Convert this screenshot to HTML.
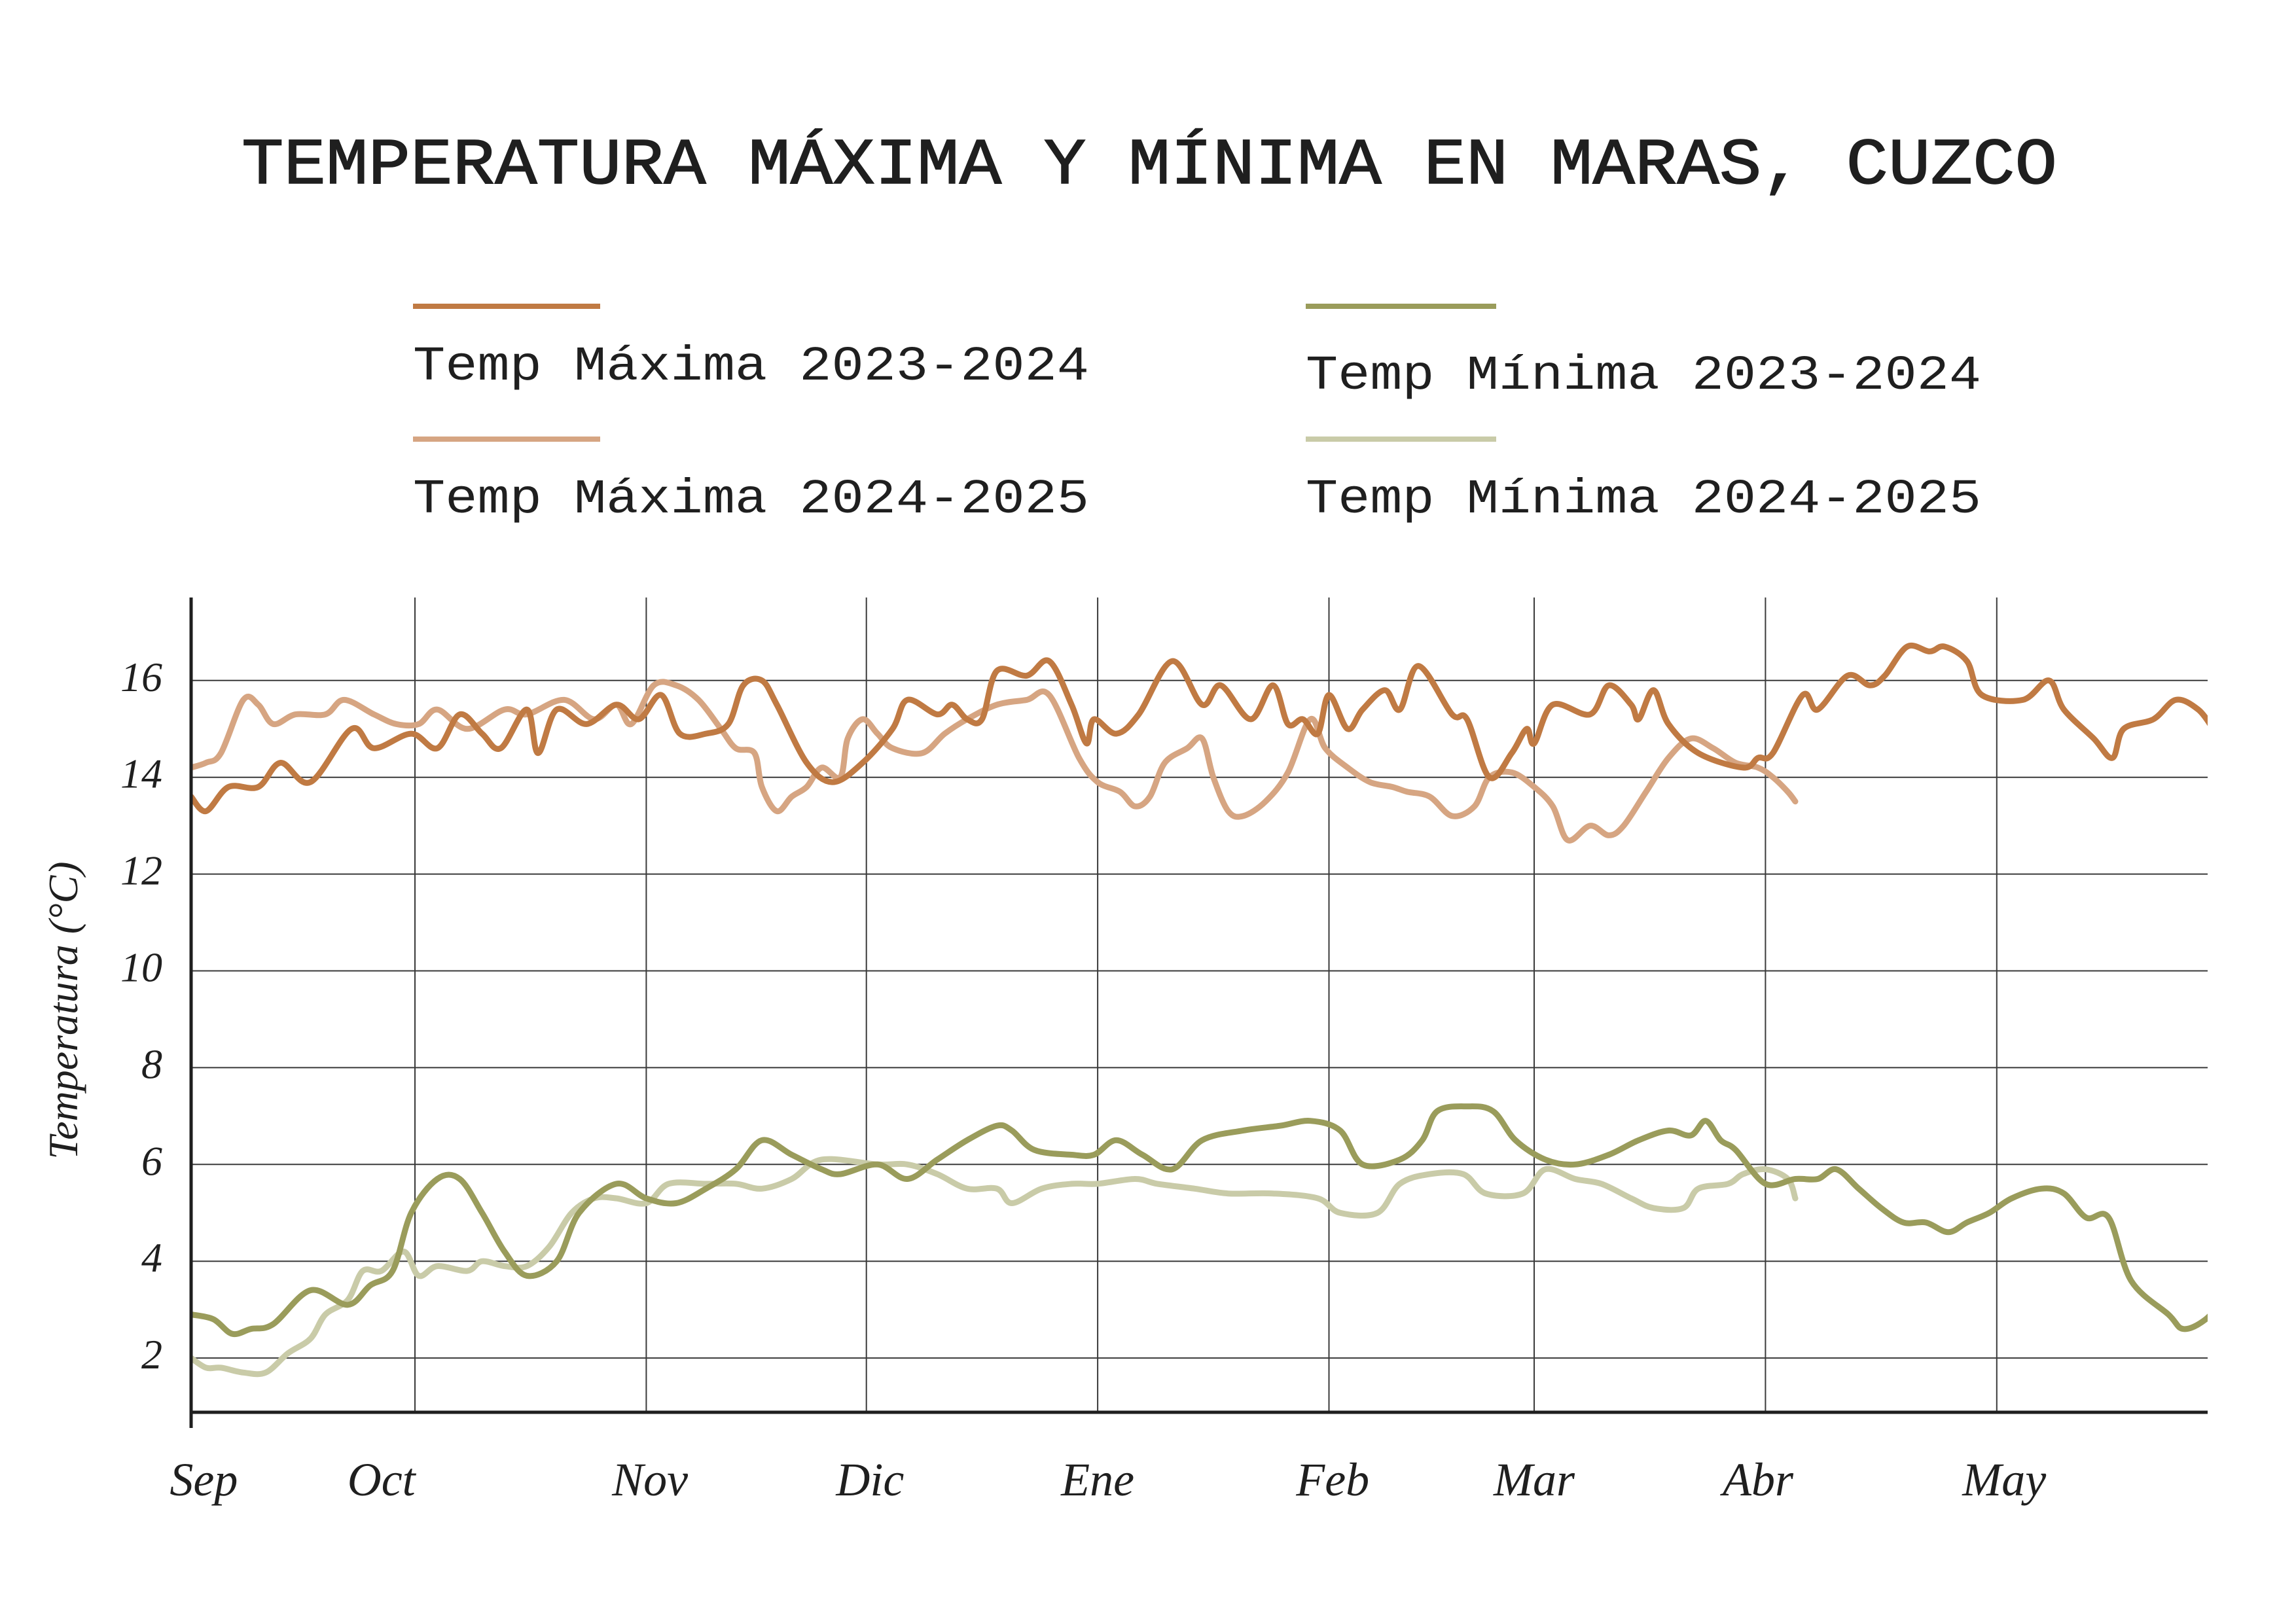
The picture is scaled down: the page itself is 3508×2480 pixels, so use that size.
<!DOCTYPE html>
<html><head><meta charset="utf-8"><style>
html,body{margin:0;padding:0;background:#fff;}
svg{display:block;}
</style></head><body>
<svg id="chart" width="3508" height="2480" viewBox="0 0 3508 2480" xmlns="http://www.w3.org/2000/svg">
<rect width="3508" height="2480" fill="#fff"/>
<text x="1756" y="280" text-anchor="middle" font-family="Liberation Mono, monospace" font-size="100" fill="#1f1f1f" stroke="#1f1f1f" stroke-width="1.5" textLength="2774" lengthAdjust="spacingAndGlyphs">TEMPERATURA MÁXIMA Y MÍNIMA EN MARAS, CUZCO</text>
<g font-family="Liberation Mono, monospace" font-size="74" fill="#1f1f1f">
<g>
<line x1="631" y1="468" x2="917" y2="468" stroke="#c07a43" stroke-width="8"/>
<text x="631" y="580" textLength="1033" lengthAdjust="spacingAndGlyphs">Temp Máxima 2023-2024</text></g>
<g>
<line x1="631" y1="671" x2="917" y2="671" stroke="#d6a582" stroke-width="8"/>
<text x="631" y="783" textLength="1033" lengthAdjust="spacingAndGlyphs">Temp Máxima 2024-2025</text></g>
<g>
<line x1="1995" y1="468" x2="2286" y2="468" stroke="#9a9c5b" stroke-width="8"/>
<text x="1995" y="594" textLength="1032" lengthAdjust="spacingAndGlyphs">Temp Mínima 2023-2024</text></g>
<g>
<line x1="1995" y1="671" x2="2286" y2="671" stroke="#c9cba8" stroke-width="8"/>
<text x="1995" y="783" textLength="1032" lengthAdjust="spacingAndGlyphs">Temp Mínima 2024-2025</text></g>
</g>
<text transform="translate(118,1544) rotate(-90)" text-anchor="middle" font-family="Liberation Serif, serif" font-style="italic" font-size="64" fill="#1f1f1f">Temperatura (°C)</text>
<defs><clipPath id="plotclip"><rect x="292" y="900" width="3081" height="1258"/></clipPath></defs>
<g id="grid"></g>
<g id="series" clip-path="url(#plotclip)"></g>
<g id="axes"></g>
</svg>
<script>
const yTicks = [2,4,6,8,10,12,14,16];
const monthLabels = ["Sep","Oct","Nov","Dic","Ene","Feb","Mar","Abr","May"];
const monthDays = [0,30,61,90.5,121.5,152.5,180,211,242];
const monthLabelDays = [1.7,25.5,61.5,91,121.5,153,180,210,243];

const maxADays = [0,2,5,9,12,16,21.5,24.5,29.5,33,36,39,41.5,45,46.5,49,53,57,60,63,65.5,69,72,74,76.5,78.5,82.5,86,90,94,96,100,102,104,106,108,112,115,118,120,121,124,127,131.5,135.5,138,142,145,147,149,151,152.5,155,157,160,162,164.5,169,171,174,177,179,180,182.5,187.5,190,193,194,196,198,202,208,210,212,216,218,222,225,227,230,233,235,238,240,245.5,249,251,255,257.5,259,263,266,269,271];
const maxAVals = [13.6,13.3,13.8,13.8,14.3,13.9,15.0,14.6,14.9,14.6,15.3,14.9,14.6,15.4,14.5,15.4,15.1,15.5,15.2,15.7,14.9,14.9,15.1,15.9,16.0,15.5,14.3,13.9,14.3,15.0,15.6,15.3,15.5,15.2,15.2,16.2,16.1,16.4,15.5,14.7,15.2,14.9,15.3,16.4,15.5,15.9,15.2,15.9,15.1,15.2,14.9,15.7,15.0,15.4,15.8,15.4,16.3,15.3,15.2,14.0,14.5,15.0,14.7,15.5,15.3,15.9,15.5,15.2,15.8,15.1,14.5,14.2,14.4,14.5,15.7,15.4,16.1,15.9,16.1,16.7,16.6,16.7,16.4,15.7,15.6,16.0,15.4,14.8,14.4,15.0,15.2,15.6,15.4,15.0];

const maxBDays = [0,2,4,7,9,11,14,18,20.5,24.5,27.5,30.5,33,37,42,45,50,54,57,59,62,65,68,71,73,75.5,76.5,78.5,80.5,82.5,84.5,87,88,90,92,94,98,101,104,108,112,115,119,121.5,124.5,126.5,128.5,130.5,133.5,135.5,137,139,141,144,147,150,152,155,158,161,163,166,169,172,174,177,180,182.5,184.5,187.5,190,192,195,198,201,204,207,210,212,214,215];
const maxBVals = [14.2,14.3,14.5,15.6,15.5,15.1,15.3,15.3,15.6,15.3,15.1,15.1,15.4,15.0,15.4,15.3,15.6,15.2,15.5,15.1,15.9,15.9,15.6,15.0,14.6,14.5,13.8,13.3,13.6,13.8,14.2,14.0,14.8,15.2,14.9,14.6,14.5,14.9,15.2,15.5,15.6,15.7,14.4,13.9,13.7,13.4,13.6,14.3,14.6,14.8,14.0,13.3,13.2,13.5,14.1,15.2,14.6,14.2,13.9,13.8,13.7,13.6,13.2,13.4,14.0,14.1,13.8,13.4,12.7,13.0,12.8,13.0,13.7,14.4,14.8,14.6,14.3,14.2,14.0,13.7,13.5];

const minADays = [0,3,5.5,8,11,16,21,24,27,29.5,33,36,39,42,45,49,52,57,61,65,69,73,76.5,80.5,84.5,87,92,96,100,104,108,110,113,118,121,124,127.5,131.5,135.5,141,146,150,154,157,162,165,167,171,174.5,177.5,181.5,185.5,190,194,198,201,203,205,207,211,215,218,220.5,223.5,226.5,229.5,232.5,235.5,238,241,244,248,251,254,257,260,265,267,270,273];
const minAVals = [2.9,2.8,2.5,2.6,2.7,3.4,3.1,3.5,3.8,5.0,5.7,5.7,5.0,4.2,3.7,4.0,5.0,5.6,5.3,5.2,5.5,5.9,6.5,6.2,5.9,5.8,6.0,5.7,6.1,6.5,6.8,6.7,6.3,6.2,6.2,6.5,6.2,5.9,6.5,6.7,6.8,6.9,6.7,6.0,6.1,6.5,7.1,7.2,7.1,6.5,6.1,6.0,6.2,6.5,6.7,6.6,6.9,6.5,6.3,5.6,5.7,5.7,5.9,5.5,5.1,4.8,4.8,4.6,4.8,5.0,5.3,5.5,5.4,4.9,4.9,3.6,2.9,2.6,2.8,3.3];

const minBDays = [0,2,4,7,10,13,16,18,21,23,25.5,28.5,30.5,33,37,39,42,45,48,51,54,57,61,64,69,73,76.5,80.5,84.5,92,96,100,104,108,110,114,118,121.5,126.5,129.5,134.5,139,145,151,154,159,162,166,170.5,173.5,178.5,181.5,185.5,189,193,196,200,202,206,208,211,214,215];
const minBVals = [2.0,1.8,1.8,1.7,1.7,2.1,2.4,2.9,3.2,3.8,3.8,4.2,3.7,3.9,3.8,4.0,3.9,3.9,4.3,5.0,5.3,5.3,5.2,5.6,5.6,5.6,5.5,5.7,6.1,6.0,6.0,5.8,5.5,5.5,5.2,5.5,5.6,5.6,5.7,5.6,5.5,5.4,5.4,5.3,5.0,5.0,5.6,5.8,5.8,5.4,5.4,5.9,5.7,5.6,5.3,5.1,5.1,5.5,5.6,5.8,5.9,5.7,5.3];

const NS = "http://www.w3.org/2000/svg";
const X0 = 292, PX_PER_DAY = 11.4, X1 = 3373;
const Y_AXIS = 2158, Y_TOP = 913;
function xScale(d){ return X0 + d * PX_PER_DAY; }
function yScale(v){ return 2223 - v * 73.95; }

function mk(tag, attrs, parent){
  const el = document.createElementNS(NS, tag);
  for (const k in attrs) el.setAttribute(k, attrs[k]);
  parent.appendChild(el);
  return el;
}
const grid = document.getElementById('grid');
const axes = document.getElementById('axes');
const series = document.getElementById('series');

yTicks.forEach(function(t){
  const gl = mk('line', {x1: X0, x2: X1, y1: yScale(t), y2: yScale(t), stroke: '#3a3a3a', 'stroke-width': 2}, grid);
  
  
  const tl = mk('text', {x: 248, y: yScale(t) + 16, 'text-anchor': 'end', 'font-family': 'Liberation Serif, serif', 'font-style': 'italic', 'font-size': 64, fill: '#1f1f1f'}, axes);
  tl.textContent = t;
  
  
});
monthDays.forEach(function(d, i){
  if (i > 0) {
    const vl = mk('line', {x1: xScale(d), x2: xScale(d), y1: Y_TOP, y2: Y_AXIS, stroke: '#3a3a3a', 'stroke-width': 2}, grid);
    
    
  }
  const ml = mk('text', {x: xScale(monthLabelDays[i]), y: 2285, 'text-anchor': 'middle', 'font-family': 'Liberation Serif, serif', 'font-style': 'italic', 'font-size': 72, fill: '#1f1f1f'}, axes);
  ml.textContent = monthLabels[i];
  
  
});
const ya = mk('line', {x1: X0, x2: X0, y1: Y_TOP, y2: Y_AXIS + 24, stroke: '#1f1f1f', 'stroke-width': 5}, axes);


const xa = mk('line', {x1: X0, x2: X1, y1: Y_AXIS, y2: Y_AXIS, stroke: '#1f1f1f', 'stroke-width': 5}, axes);



function smoothPath(days, vals){
  const p = days.map(function(d, i){ return [xScale(d), yScale(vals[i])]; });
  let s = 'M' + p[0][0].toFixed(1) + ',' + p[0][1].toFixed(1);
  for (let i = 0; i < p.length - 1; i++) {
    const p0 = p[i - 1] || p[i], p1 = p[i], p2 = p[i + 1], p3 = p[i + 2] || p2;
    const c1x = p1[0] + (p2[0] - p0[0]) / 6, c1y = p1[1] + (p2[1] - p0[1]) / 6;
    const c2x = p2[0] - (p3[0] - p1[0]) / 6, c2y = p2[1] - (p3[1] - p1[1]) / 6;
    s += ' C' + c1x.toFixed(1) + ',' + c1y.toFixed(1) + ' ' + c2x.toFixed(1) + ',' + c2y.toFixed(1) + ' ' + p2[0].toFixed(1) + ',' + p2[1].toFixed(1);
  }
  return s;
}
function drawLine(days, vals, color, name){
  const path = mk('path', {d: smoothPath(days, vals), fill: 'none', stroke: color, 'stroke-width': 9, 'stroke-linejoin': 'round', 'stroke-linecap': 'round'}, series);
  
  
}
drawLine(minBDays, minBVals, '#c9cba8', 'line-min-2024-2025');
drawLine(minADays, minAVals, '#9a9c5b', 'line-min-2023-2024');
drawLine(maxBDays, maxBVals, '#d6a582', 'line-max-2024-2025');
drawLine(maxADays, maxAVals, '#c07a43', 'line-max-2023-2024');
</script>
</body></html>
